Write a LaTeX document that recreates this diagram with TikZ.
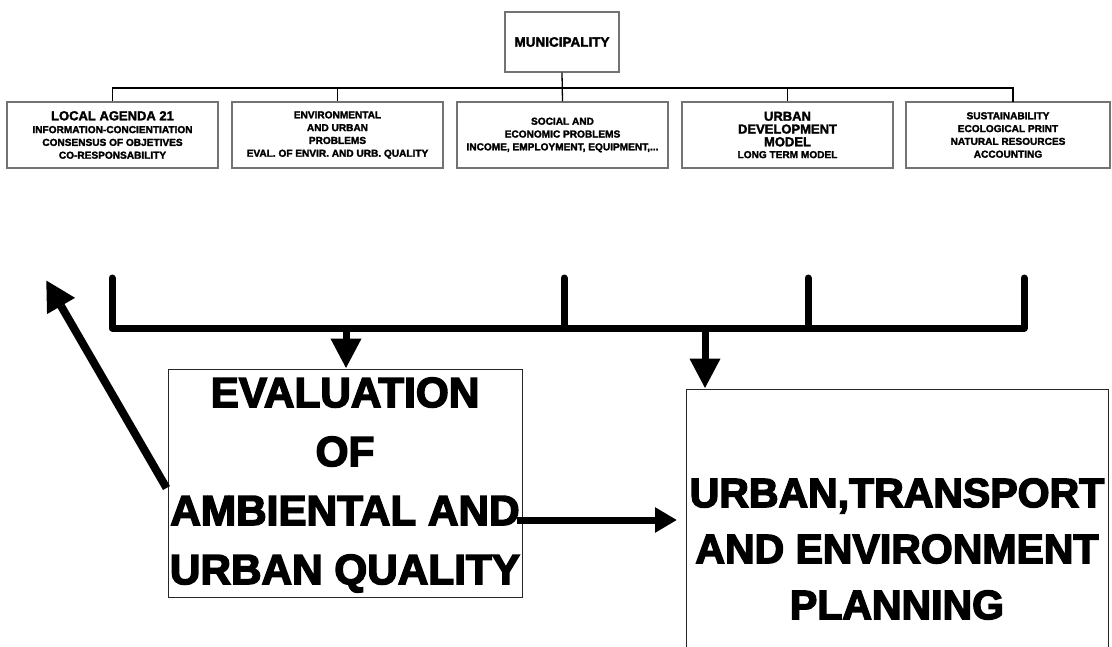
\documentclass[tikz,border=0pt]{standalone}
\usepackage{fontspec}
\newfontfamily\blk{Liberation Sans}[UprightFont={* Bold},FakeBold=2.2]
\newfontfamily\blkbig{Liberation Sans}[UprightFont={* Bold},FakeBold=3.5]
\usetikzlibrary{arrows.meta}
\tikzset{
  topbox/.style={draw=black!55, line width=1.2pt, fill=white, minimum width=211pt,
    minimum height=66pt, inner sep=0pt, align=center,
    font=\blk\fontsize{10.1}{12.8}\selectfont},
  conn/.style={draw=black, line width=1.3pt},
  bigbox/.style={draw=black!85, line width=1pt, fill=white, inner sep=0pt},
  bigtext/.style={align=center, inner sep=0pt, font=\blkbig\fontsize{42.3}{59}\selectfont},
  bar/.style={line width=7pt, line cap=round, line join=round},
  downarrow/.style={line width=7pt, -{Triangle[length=30pt,width=29pt]}},
  diagarrow/.style={line width=8pt, -{Triangle[length=30pt,width=30pt]}},
  sidearrow/.style={line width=7pt, -{Triangle[length=22pt,width=24pt]}},
}
\newcommand{\hd}[1]{{\fontsize{13}{13}\selectfont #1}}
\begin{document}
\begin{tikzpicture}[x=1pt,y=-1pt]
\useasboundingbox (0,0) rectangle (1112,646);
\fill[white] (0,0) rectangle (1112,646);

% top tree
\node[topbox, minimum width=114pt, minimum height=60pt] (mun) at (562,42) {\fontsize{13.5}{14}\selectfont MUNICIPALITY};
\node[topbox] (t1) at (112.5,135) {\hd{LOCAL AGENDA 21}\\INFORMATION-CONCIENTIATION\\CONSENSUS OF OBJETIVES\\CO-RESPONSABILITY};
\node[topbox] (t2) at (337.5,135) {ENVIRONMENTAL\\AND URBAN\\PROBLEMS\\EVAL. OF ENVIR. AND URB. QUALITY};
\node[topbox] (t3) at (562.5,135) {SOCIAL AND\\ECONOMIC PROBLEMS\\INCOME, EMPLOYMENT, EQUIPMENT,...};
\node[topbox] (t4) at (787.5,135) {\hd{URBAN}\\\hd{DEVELOPMENT}\\\hd{MODEL}\\[-1pt]LONG TERM MODEL};
\node[topbox, minimum width=204pt] (t5) at (1008,135) {SUSTAINABILITY\\ECOLOGICAL PRINT\\NATURAL RESOURCES\\ACCOUNTING};

\coordinate (hl) at (112.5,88);
\draw[conn] (mun.south) -- (t3.north);
\draw[conn] (t1.north) -- (hl) -- (1013,88) -- (1013,102);
\draw[conn] (t2.north) -- (t2.north |- hl);
\draw[conn] (t4.north) -- (t4.north |- hl);

% lower part
\node[bigbox, minimum width=354pt, minimum height=228pt] (eval) at (345,483) {};
\node[bigtext] (evaltxt) at (345,485) {EVALUATION\\OF\\AMBIENTAL AND\\URBAN QUALITY};
\node[bigbox, minimum width=422pt, minimum height=300pt] (plan) at (897,539) {};
\node[bigtext, font=\blkbig\fontsize{41}{56}\selectfont] (plantxt) at (897,549) {URBAN,TRANSPORT\\AND ENVIRONMENT\\PLANNING};

\coordinate (v1) at (112,278);
\coordinate (v2) at (564,278);
\coordinate (v3) at (808,278);
\coordinate (v4) at (1024,278);
\draw[bar] (v1) -- (112,328) -- (1024,328) -- (v4);
\draw[bar] (v2) -- (564,328);
\draw[bar] (v3) -- (808,328);

\coordinate (b1) at (346,328);
\coordinate (b2) at (705,328);
\draw[downarrow] (b1) -- (b1 |- eval.north);
\draw[downarrow] (b2) -- (b2 |- plan.north);

\coordinate (fb) at (46,280);
\draw[diagarrow] ([yshift=-5pt,xshift=-1pt]eval.west) -- (fb);

\coordinate (h1) at (517,520);
\draw[sidearrow] (h1) -- (677,520);
\end{tikzpicture}
\end{document}
